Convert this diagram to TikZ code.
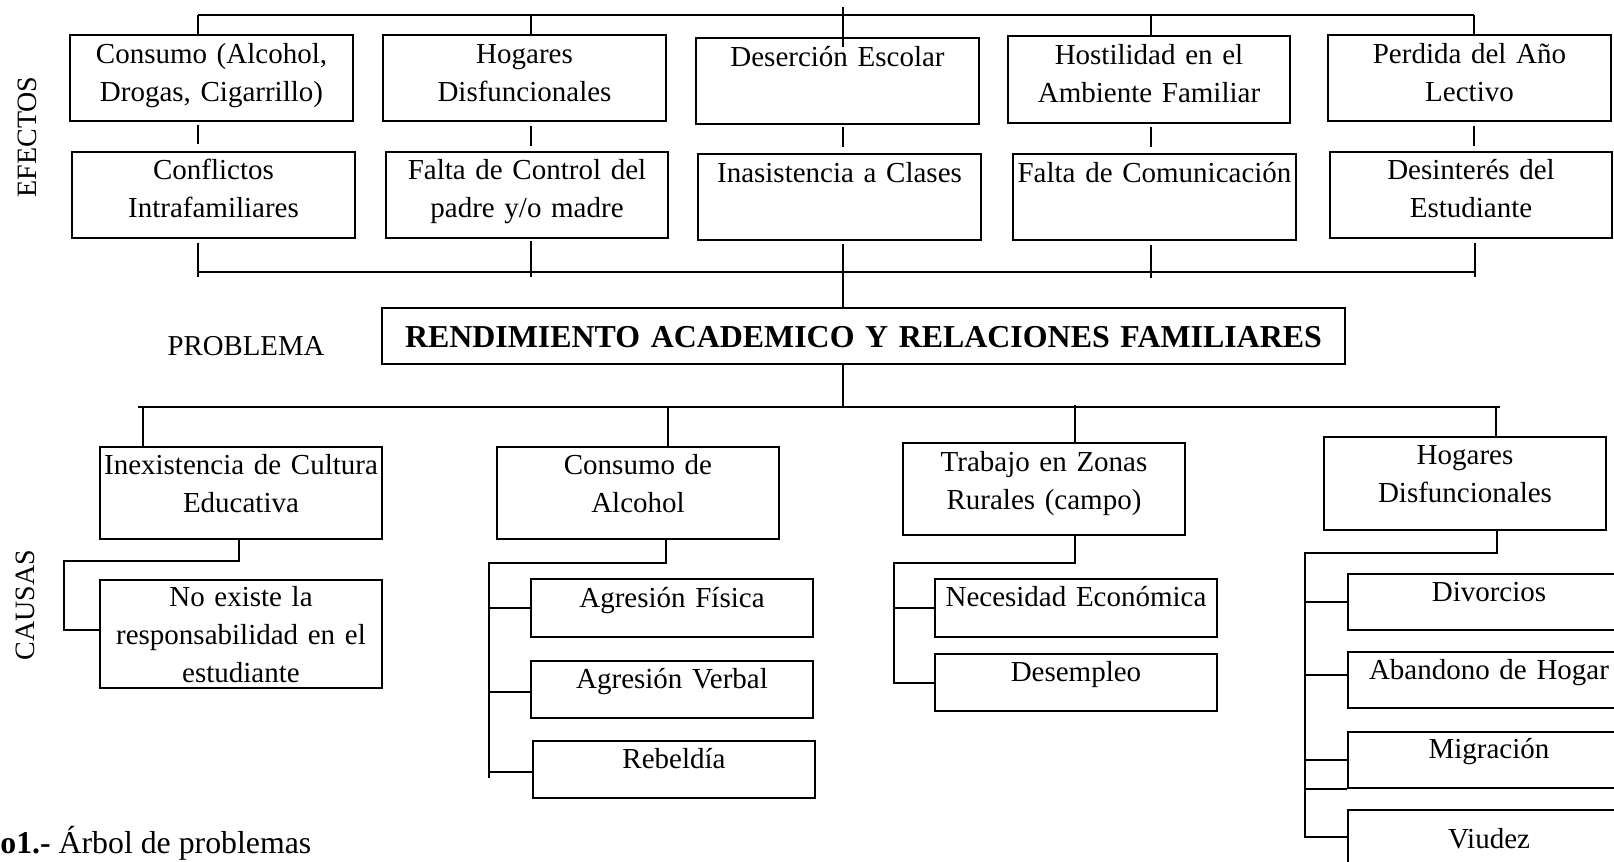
\documentclass[tikz,border=0pt]{standalone}
\usepackage{fontspec}
\setmainfont{Liberation Serif}
\usetikzlibrary{calc}
\newcommand\myBody{\fontsize{14.5}{19}\selectfont}
\tikzset{
  bx/.style={draw, line width=1pt, inner sep=0pt, anchor=north west, align=center, font=\myBody},
  ln/.style={line width=1pt},
  lab/.style={inner sep=0pt, font=\fontsize{14}{17}\selectfont}
}
\begin{document}
\begin{tikzpicture}[x=0.5pt, y=-0.5pt]
\useasboundingbox (0,0) rectangle (1614,862);
\clip (0,0) rectangle (1614,862);

% ---- EFECTOS row 1
\node[bx, text width=141.5pt, text height=14pt, text depth=29pt] (E1) at (69,34) {Consumo (Alcohol,\\Drogas, Cigarrillo)};
\node[bx, text width=141.5pt, text height=14pt, text depth=29pt] (E2) at (382,34) {Hogares\\Disfuncionales};
\node[bx, text width=141.5pt, text height=14pt, text depth=29pt] (E3) at (695,37) {Deserción Escolar};
\node[bx, text width=141pt, text height=14pt, text depth=29.5pt] (E4) at (1007,35) {Hostilidad en el\\Ambiente Familiar};
\node[bx, text width=141.5pt, text height=14pt, text depth=29pt] (E5) at (1327,34) {Perdida del Año\\Lectivo};
% ---- EFECTOS row 2
\node[bx, text width=141.5pt, text height=13.5pt, text depth=29.5pt] (F1) at (71,151) {Conflictos\\Intrafamiliares};
\node[bx, text width=141pt, text height=13.5pt, text depth=29.5pt] (F2) at (385,151) {Falta de Control del\\padre y/o madre};
\node[bx, text width=141.5pt, text height=14pt, text depth=29pt] (F3) at (697,153) {Inasistencia a Clases};
\node[bx, text width=141.5pt, text height=14pt, text depth=29pt] (F4) at (1012,153) {Falta de Comunicación};
\node[bx, text width=141pt, text height=13.5pt, text depth=29.5pt] (F5) at (1329,151) {Desinterés del\\Estudiante};

% ---- PROBLEMA
\node[bx, text width=481.5pt, text height=19.5pt, text depth=8.5pt, font=\fontsize{15.95}{19}\selectfont\bfseries] (P) at (381,307) {RENDIMIENTO ACADEMICO Y RELACIONES FAMILIARES};

% ---- CAUSAS
\node[bx, text width=141pt, text height=13.5pt, text depth=32.5pt] (C1) at (99,446) {Inexistencia de Cultura\\Educativa};
\node[bx, text width=141pt, text height=13.5pt, text depth=32.5pt] (C2) at (496,446) {Consumo de\\Alcohol};
\node[bx, text width=141pt, text height=14pt, text depth=32pt] (C3) at (902,442) {Trabajo en Zonas\\Rurales (campo)};
\node[bx, text width=141pt, text height=13.5pt, text depth=33pt] (C4) at (1323,436) {Hogares\\Disfuncionales};

\node[bx, text width=141pt, text height=13pt, text depth=41pt] (N1) at (99,579) {No existe la\\responsabilidad en el\\estudiante};

\node[bx, text width=141pt, text height=14pt, text depth=15pt] (A1) at (530,578) {Agresión Física};
\node[bx, text width=141pt, text height=13.5pt, text depth=15pt] (A2) at (530,660) {Agresión Verbal};
\node[bx, text width=141pt, text height=13.5pt, text depth=15pt] (A3) at (532,740) {Rebeldía};

\node[bx, text width=141pt, text height=13.5pt, text depth=15.5pt] (D1) at (934,578) {Necesidad Económica};
\node[bx, text width=141pt, text height=13.5pt, text depth=15pt] (D2) at (934,653) {Desempleo};

\node[bx, text width=141pt, text height=13.5pt, text depth=14.5pt] (G1) at (1347,573) {Divorcios};
\node[bx, text width=141pt, text height=13.5pt, text depth=14.5pt] (G2) at (1347,651) {Abandono de Hogar};
\node[bx, text width=141pt, text height=13pt, text depth=15pt] (G3) at (1347,731) {Migración};
\node[bx, text width=141pt, text height=19pt, text depth=16pt] (G4) at (1347,809) {Viudez};

% ---- side labels
\node[lab, rotate=90] (ef) at (27,137) {EFECTOS};
\node[lab, rotate=90] (ca) at (25,605) {CAUSAS};
\node[lab, anchor=base, font=\fontsize{14.4}{17}\selectfont] (pr) at (246,355) {PROBLEMA};
\node[anchor=base west, inner sep=0pt, font=\fontsize{15.9}{19}\selectfont] (cap) at (0,853) {\textbf{o1.-} Árbol de problemas};

% ---- top bus
\coordinate (t0) at (198,15);
\coordinate (t1) at (531,15);
\coordinate (tc) at (843,7);
\coordinate (t3) at (1151,15);
\coordinate (t4) at (1474,15);
\draw[ln] (t0) -- (t4);
\draw[ln] (t0) -- (t0 |- E1.north);
\draw[ln] (t1) -- (t1 |- E2.north);
\draw[ln] (t3) -- (t3 |- E4.north);
\draw[ln] (t4) -- (t4 |- E5.north);
\draw[ln] (tc) -- ($(tc |- E3.north)+(0,10)$);

% ---- stubs between rows
\draw[ln] ($(t0 |- E1.south)+(0,3)$) -- ($(t0 |- F1.north)+(0,-7)$);
\draw[ln] ($(t1 |- E2.south)+(0,4)$) -- ($(t1 |- F2.north)+(0,-5)$);
\draw[ln] ($(tc |- E3.south)+(0,2)$) -- ($(tc |- F3.north)+(0,-6)$);
\draw[ln] ($(t3 |- E4.south)+(0,3)$) -- ($(t3 |- F4.north)+(0,-6)$);
\draw[ln] ($(t4 |- E5.south)+(0,4)$) -- ($(t4 |- F5.north)+(0,-5)$);

% ---- bottom bus
\coordinate (b0) at (198,272);
\coordinate (b4) at (1475,272);
\draw[ln] (b0) -- (b4);
\draw[ln] ($(t0 |- F1.south)+(0,4)$) -- ($(b0)+(0,5)$);
\draw[ln] ($(t1 |- F2.south)+(0,2)$) -- ($(t1 |- b0)+(0,5)$);
\draw[ln] ($(t3 |- F4.south)+(0,4)$) -- ($(t3 |- b0)+(0,6)$);
\draw[ln] ($(b4 |- F5.south)+(0,4)$) -- ($(b4)+(0,5)$);
\draw[ln] ($(tc |- F3.south)+(0,3)$) -- (tc |- P.north);

% ---- causes bus
\coordinate (c0) at (137.5,407);
\coordinate (c5) at (1500,407);
\draw[ln] (c0) -- (c5);
\draw[ln] (tc |- P.south) -- (tc |- c0);
\coordinate (k1) at (143,407);
\coordinate (k2) at (668,407);
\coordinate (k3) at (1075,405);
\coordinate (k4) at (1496,407);
\draw[ln] (k1) -- (k1 |- C1.north);
\draw[ln] (k2) -- (k2 |- C2.north);
\draw[ln] (k3) -- (k3 |- C3.north);
\draw[ln] (k4) -- (k4 |- C4.north);

% ---- C1 branch
\coordinate (d1) at (238.6,561);
\coordinate (e1) at (63.6,630);
\draw[ln] (d1 |- C1.south) -- (d1) -- (d1 -| e1) -- (e1) -- (e1 -| N1.west);

% ---- C2 branch
\coordinate (d2) at (666,563);
\coordinate (v2) at (489,563);
\coordinate (v2e) at (489,778);
\draw[ln] (d2 |- C2.south) -- (d2) -- (v2) -- (v2e);
\draw[ln] (v2 |- A1.west) -- (A1.west);
\draw[ln] ($(v2 |- A2.west)+(0,2)$) -- ($(A2.west)+(0,2)$);
\draw[ln] ($(v2 |- A3.west)+(0,2)$) -- ($(A3.west)+(0,2)$);

% ---- C3 branch
\coordinate (d3) at (1075,563);
\coordinate (v3) at (893.6,563);
\draw[ln] (d3 |- C3.south) -- (d3) -- (v3) -- (v3 |- D2.west) -- (D2.west);
\draw[ln] (v3 |- D1.west) -- (D1.west);

% ---- C4 branch
\coordinate (d4) at (1497,553);
\coordinate (v4) at (1305,553);
\coordinate (v4e) at (1305,837);
\draw[ln] (d4 |- C4.south) -- (d4) -- (v4) -- (v4e) -- (v4e -| G4.west);
\draw[ln] (v4 |- G1.west) -- (G1.west);
\draw[ln] ($(v4 |- G2.west)+(0,-5)$) -- ($(G2.west)+(0,-5)$);
\draw[ln] (v4 |- G3.west) -- (G3.west);
\draw[ln] (v4 |- G3.south west) -- (G3.south west);
\end{tikzpicture}
\end{document}
